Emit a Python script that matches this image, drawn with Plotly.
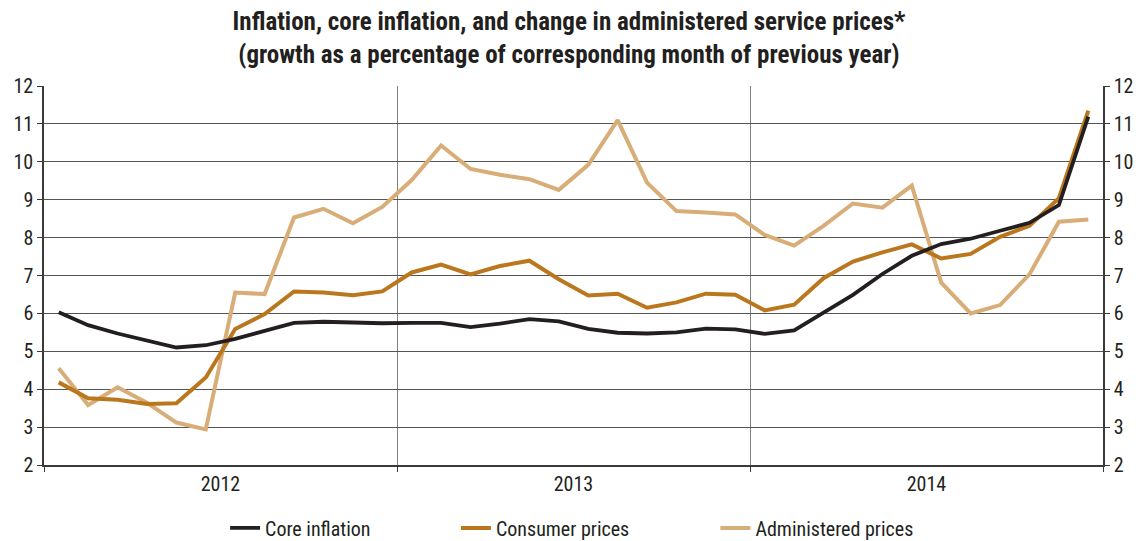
import plotly.graph_objects as go

# Monthly observations, Jan 2012 .. Dec 2014 (index 0..35)
months = list(range(36))
years = ["2012", "2013", "2014"]

core_inflation = [
    6.03, 5.69, 5.47, 5.29, 5.10, 5.16, 5.33, 5.54, 5.75, 5.78, 5.76, 5.74,
    5.75, 5.75, 5.64, 5.73, 5.85, 5.79, 5.59, 5.49, 5.47, 5.50, 5.60, 5.58,
    5.46, 5.55, 6.02, 6.49, 7.04, 7.52, 7.83, 7.97, 8.18, 8.39, 8.86, 11.19,
]
consumer_prices = [
    4.18, 3.76, 3.72, 3.61, 3.63, 4.31, 5.59, 5.98, 6.58, 6.55, 6.48, 6.58,
    7.08, 7.29, 7.03, 7.25, 7.39, 6.90, 6.47, 6.52, 6.15, 6.29, 6.52, 6.49,
    6.08, 6.23, 6.93, 7.37, 7.61, 7.82, 7.45, 7.57, 8.02, 8.31, 9.04, 11.35,
]
administered_prices = [
    4.55, 3.58, 4.05, 3.64, 3.12, 2.94, 6.55, 6.51, 8.53, 8.76, 8.38, 8.81,
    9.52, 10.43, 9.81, 9.66, 9.54, 9.26, 9.92, 11.10, 9.45, 8.70, 8.66, 8.61,
    8.07, 7.79, 8.31, 8.90, 8.79, 9.37, 6.81, 6.00, 6.22, 7.03, 8.42, 8.48,
]

FONT = "Liberation Sans Narrow, Arial Narrow, Roboto Condensed, DejaVu Sans Condensed, sans-serif"
C_CORE = "#231f20"
C_CPI = "#bb771d"
C_ADM = "#d8ad77"
GRID = "#555555"

fig = go.Figure()
fig.add_trace(go.Scatter(x=months, y=administered_prices, mode="lines",
                         name="Administered prices", legend="legend3",
                         line=dict(color=C_ADM, width=4)))
fig.add_trace(go.Scatter(x=months, y=consumer_prices, mode="lines",
                         name="Consumer prices", legend="legend2",
                         line=dict(color=C_CPI, width=4)))
fig.add_trace(go.Scatter(x=months, y=core_inflation, mode="lines",
                         name="Core inflation", legend="legend",
                         yaxis="y2", line=dict(color=C_CORE, width=3.8)))

legend_common = dict(orientation="h", yanchor="middle", y=-0.166, xanchor="left",
                     font=dict(family=FONT, size=20, color="#231f20"),
                     bgcolor="rgba(0,0,0,0)", borderwidth=0, visible=True)

fig.update_layout(
    width=1138, height=541,
    margin=dict(l=44, r=35, t=86, b=76, autoexpand=False),
    showlegend=True,
    paper_bgcolor="white", plot_bgcolor="white",
    title=dict(
        text="Inflation, core inflation, and change in administered service prices*<br>"
             "(growth as a percentage of corresponding month of previous year)",
        x=0.5, xanchor="center", y=0.944, yanchor="top",
        font=dict(family=FONT, size=25, color="#231f20", weight="bold"),
    ),
    xaxis=dict(
        range=[-0.5, 35.5],
        tickvals=[5.5, 17.5, 29.5], ticktext=years, ticks="",
        showgrid=False, zeroline=False,
        showline=True, linecolor="#3a3a3a", linewidth=1.5,
        tickfont=dict(family=FONT, size=20, color="#231f20"),
        minor=dict(tick0=-0.5, dtick=12, showgrid=True, gridcolor="#7f7f7f",
                   gridwidth=1.3, ticks="outside", ticklen=5, tickcolor="#3a3a3a"),
    ),
    yaxis=dict(
        range=[2, 12], dtick=1, side="left",
        showgrid=True, gridcolor=GRID, gridwidth=1.4, zeroline=False,
        showline=True, linecolor="#3a3a3a", linewidth=1.5,
        ticks="outside", ticklen=5, tickcolor="#3a3a3a",
        tickfont=dict(family=FONT, size=20, color="#231f20"),
    ),
    yaxis2=dict(
        range=[2, 12], dtick=1, side="right", overlaying="y", matches="y",
        showgrid=False, zeroline=False,
        showline=True, linecolor="#3a3a3a", linewidth=1.5,
        ticks="outside", ticklen=5, tickcolor="#3a3a3a",
        tickfont=dict(family=FONT, size=20, color="#231f20"),
    ),
    legend=dict(x=0.171, **legend_common),
    legend2=dict(x=0.389, **legend_common),
    legend3=dict(x=0.634, **legend_common),
)

fig.write_html("out.html")
